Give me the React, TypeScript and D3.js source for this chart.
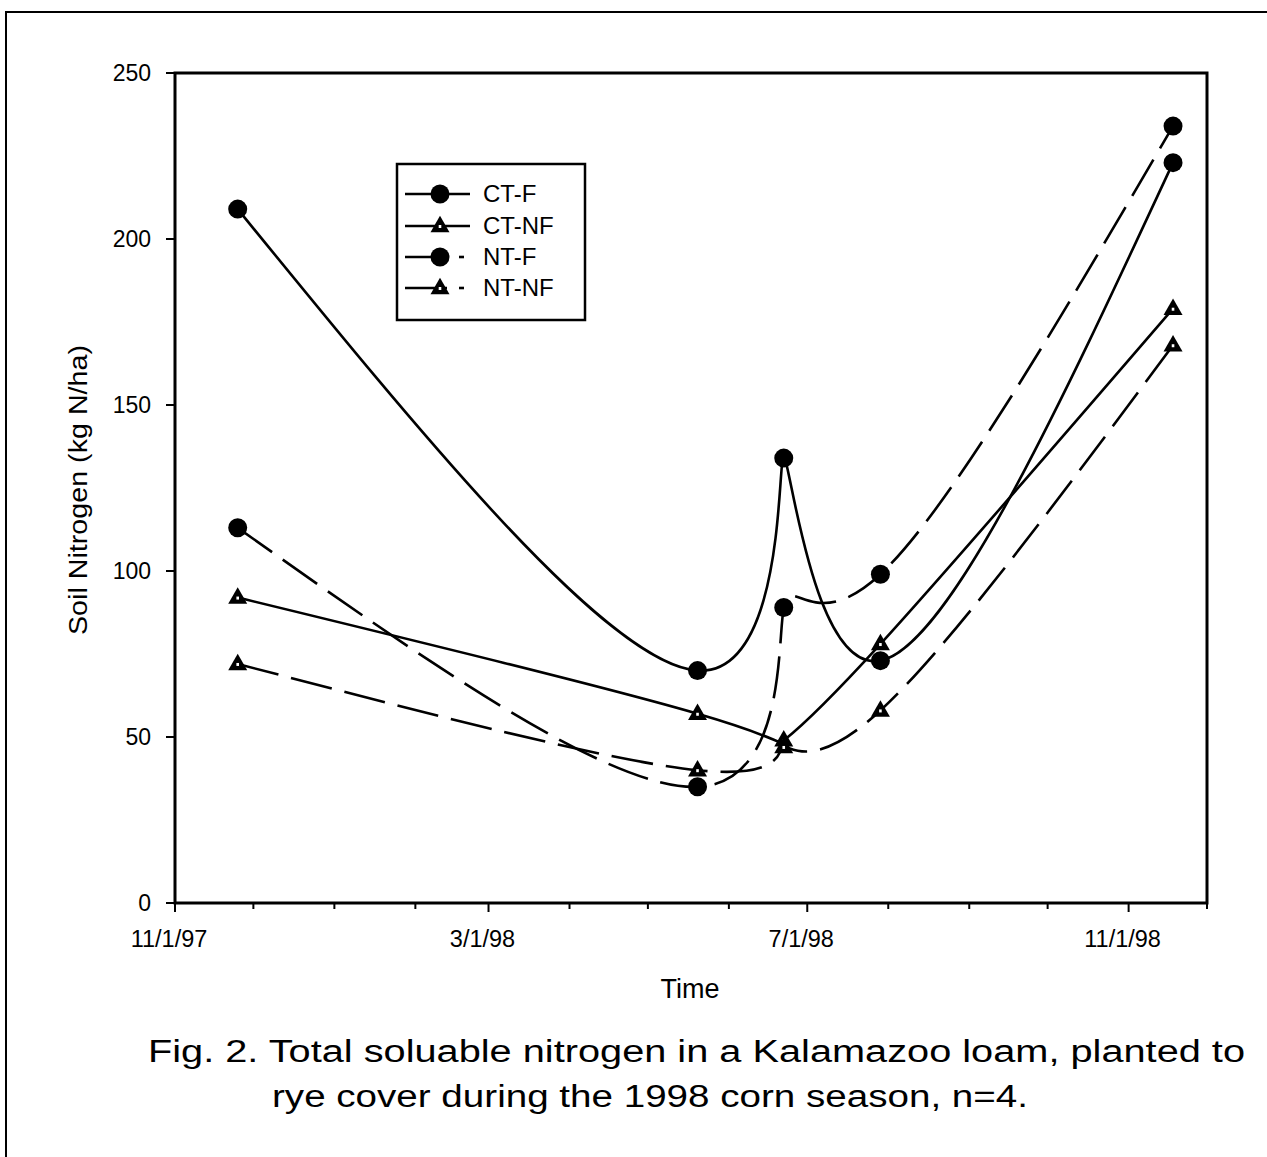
import React from "react";
import * as d3 from "d3";

const dates = ["1997-11-25", "1998-05-20", "1998-06-22", "1998-07-29", "1998-11-18"];
const ctF = [209, 70, 134, 73, 223];
const ctNF = [92, 57, 49, 78, 179];
const ntF = [113, 35, 89, 99, 234];
const ntNF = [72, 40, 47, 58, 168];
const yTicks = [0, 50, 100, 150, 200, 250];
const xMajor = ["1997-11-01", "1998-03-01", "1998-07-01", "1998-11-01"];
const xMajorLabels = ["11/1/97", "3/1/98", "7/1/98", "11/1/98"];

const series = [
  { name: "CT-F", values: ctF, marker: "circle", dashed: false },
  { name: "CT-NF", values: ctNF, marker: "triangle", dashed: false },
  { name: "NT-F", values: ntF, marker: "circle", dashed: true },
  { name: "NT-NF", values: ntNF, marker: "triangle", dashed: true },
];

const FONT = "Liberation Sans, Arial, Helvetica, sans-serif";
const parse = (s: string) => new Date(s + "T00:00:00");

function Marker({ type, x, y }: { type: string; x: number; y: number }) {
  if (type === "circle") return <circle cx={x} cy={y} r={9.5} fill="#000" />;
  const s = 19;
  const h = s * 0.87;
  return (
    <g>
      <path
        d={`M${x},${y - h * 0.62} L${x + s / 2},${y + h * 0.38} L${x - s / 2},${y + h * 0.38} Z`}
        fill="#000"
      />
      <rect x={x - 1.3} y={y - 1} width={2.6} height={3} fill="#fff" />
    </g>
  );
}

export default function App() {
  const L = 175, R = 1207, T = 73, B = 903;
  const x = d3.scaleTime().domain([parse("1997-11-01"), parse("1998-12-01")]).range([L, R]);
  const y = d3.scaleLinear().domain([0, 250]).range([B, T]);
  const months = d3.timeMonth.range(parse("1997-11-01"), parse("1998-12-02"));
  const xs = dates.map((d) => x(parse(d)));
  const line = d3
    .line<number>()
    .x((_, i) => xs[i])
    .y((v) => y(v))
    .curve(d3.curveNatural);

  const legendRows = [194, 226, 257, 288];

  return (
    <svg width={1267} height={1157} style={{ display: "block", position: "absolute", left: 0, top: 0 }}>
      <rect x={0} y={0} width={1267} height={1157} fill="#fff" />
      <path d="M6,1157 L6,12 L1275,12" fill="none" stroke="#000" strokeWidth={2} />
      {/* plot frame */}
      <rect x={L} y={T} width={R - L} height={B - T} fill="none" stroke="#000" strokeWidth={3} />
      {/* y ticks */}
      {yTicks.map((t) => (
        <g key={t}>
          <line x1={L - 9} x2={L} y1={y(t)} y2={y(t)} stroke="#000" strokeWidth={2} />
          <text x={L - 24} y={y(t) + 8} textAnchor="end" fontFamily={FONT} fontSize={23} fill="#000">
            {t}
          </text>
        </g>
      ))}
      {/* x ticks */}
      {months.map((m, i) => {
        const major = xMajor.some((s) => +parse(s) === +m);
        return (
          <line key={i} x1={x(m)} x2={x(m)} y1={B} y2={B + (major ? 9 : 6)} stroke="#000" strokeWidth={2} />
        );
      })}
      {xMajor.map((s, i) => (
        <text key={s} x={x(parse(s)) - 6} y={947} textAnchor="middle" fontFamily={FONT} fontSize={23.5} fill="#000">
          {xMajorLabels[i]}
        </text>
      ))}
      <text x={690} y={998} textAnchor="middle" fontFamily={FONT} fontSize={27} fill="#000">
        Time
      </text>
      <text
        transform="translate(87,490) rotate(-90)"
        textAnchor="middle"
        fontFamily={FONT}
        fontSize={26}
        fill="#000"
        textLength={290}
        lengthAdjust="spacingAndGlyphs"
      >
        Soil Nitrogen (kg N/ha)
      </text>
      {/* curves */}
      {series.map((s) => (
        <path
          key={s.name}
          d={line(s.values) || ""}
          fill="none"
          stroke="#000"
          strokeWidth={2.6}
          strokeDasharray={s.dashed ? "42,13" : undefined}
        />
      ))}
      {series.map((s) =>
        s.values.map((v, i) => <Marker key={s.name + i} type={s.marker} x={xs[i]} y={y(v)} />)
      )}
      {/* legend */}
      <rect x={397} y={164} width={188} height={156} fill="#fff" stroke="#000" strokeWidth={2.5} />
      {series.map((s, i) => (
        <g key={s.name}>
          {s.dashed ? (
            <>
              <line x1={405} x2={447} y1={legendRows[i]} y2={legendRows[i]} stroke="#000" strokeWidth={2.6} />
              <line x1={459} x2={464} y1={legendRows[i]} y2={legendRows[i]} stroke="#000" strokeWidth={2.6} />
            </>
          ) : (
            <line x1={405} x2={470} y1={legendRows[i]} y2={legendRows[i]} stroke="#000" strokeWidth={2.6} />
          )}
          <Marker type={s.marker} x={440} y={legendRows[i]} />
          <text x={483} y={legendRows[i] + 8} fontFamily={FONT} fontSize={24} fill="#000">
            {s.name}
          </text>
        </g>
      ))}
      {/* caption */}
      <text x={148} y={1062} fontFamily={FONT} fontSize={31} fill="#000" textLength={1097} lengthAdjust="spacingAndGlyphs">
        Fig. 2. Total soluable nitrogen in a Kalamazoo loam, planted to
      </text>
      <text x={272} y={1107} fontFamily={FONT} fontSize={31} fill="#000" textLength={756} lengthAdjust="spacingAndGlyphs">
        rye cover during the 1998 corn season, n=4.
      </text>
    </svg>
  );
}
